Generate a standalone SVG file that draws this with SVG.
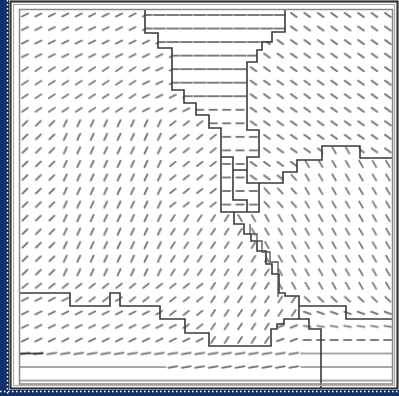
<svg xmlns="http://www.w3.org/2000/svg" width="399" height="396" viewBox="0 0 399 396">
<style>
.d{stroke:#7a7a7a;stroke-width:1.9;stroke-linecap:round;fill:none}
.h{stroke:#8a8a8a;stroke-width:1.5;fill:none}
.b{stroke:#3a3a3a;stroke-width:1.6;fill:none}
.b2{stroke:#555;stroke-width:1.3;fill:none}
</style>
<defs>
<pattern id="p25" width="13.44" height="13.54" x="18.28" y="8.23" patternUnits="userSpaceOnUse"><line class="d" x1="3.55" y1="8.25" x2="9.89" y2="5.29"/></pattern>
<pattern id="p33" width="13.44" height="13.54" x="18.28" y="8.23" patternUnits="userSpaceOnUse"><line class="d" x1="3.78" y1="8.68" x2="9.66" y2="4.86"/></pattern>
<pattern id="p38" width="13.44" height="13.54" x="18.28" y="8.23" patternUnits="userSpaceOnUse"><line class="d" x1="3.96" y1="8.92" x2="9.48" y2="4.62"/></pattern>
<pattern id="p45" width="13.44" height="13.54" x="18.28" y="8.23" patternUnits="userSpaceOnUse"><line class="d" x1="4.25" y1="9.24" x2="9.19" y2="4.30"/></pattern>
<pattern id="p57" width="13.44" height="13.54" x="18.28" y="8.23" patternUnits="userSpaceOnUse"><line class="d" x1="4.81" y1="9.71" x2="8.63" y2="3.83"/></pattern>
<pattern id="p65" width="13.44" height="13.54" x="18.28" y="8.23" patternUnits="userSpaceOnUse"><line class="d" x1="5.24" y1="9.94" x2="8.20" y2="3.60"/></pattern>
<pattern id="p20" width="13.44" height="13.54" x="18.28" y="8.23" patternUnits="userSpaceOnUse"><line class="d" x1="3.43" y1="7.97" x2="10.01" y2="5.57"/></pattern>
<pattern id="p10" width="13.44" height="13.54" x="18.28" y="8.23" patternUnits="userSpaceOnUse"><line class="d" x1="2.3" y1="7.55" x2="11.14" y2="5.99"/></pattern>
<pattern id="p0S" width="13.44" height="13.54" x="18.28" y="8.23" patternUnits="userSpaceOnUse"><line class="d" x1="3.0" y1="6.77" x2="10.44" y2="6.77"/></pattern>
<pattern id="p0L" width="13.44" height="13.54" x="18.28" y="8.23" patternUnits="userSpaceOnUse"><line class="d" x1="1.0" y1="6.77" x2="12.4" y2="6.77"/></pattern>
<pattern id="pF" width="13.44" height="13.54" x="18.28" y="8.23" patternUnits="userSpaceOnUse"><line class="h" x1="-1" y1="6.77" x2="14.5" y2="6.77"/></pattern>
<pattern id="m35" width="13.44" height="13.54" x="18.28" y="8.23" patternUnits="userSpaceOnUse"><line class="d" x1="3.85" y1="4.76" x2="9.59" y2="8.78"/></pattern>
<pattern id="m42" width="13.44" height="13.54" x="18.28" y="8.23" patternUnits="userSpaceOnUse"><line class="d" x1="4.12" y1="4.43" x2="9.32" y2="9.11"/></pattern>
<pattern id="m48" width="13.44" height="13.54" x="18.28" y="8.23" patternUnits="userSpaceOnUse"><line class="d" x1="4.38" y1="4.17" x2="9.06" y2="9.37"/></pattern>
<pattern id="m60" width="13.44" height="13.54" x="18.28" y="8.23" patternUnits="userSpaceOnUse"><line class="d" x1="4.97" y1="3.74" x2="8.47" y2="9.80"/></pattern>
<pattern id="m20" width="13.44" height="13.54" x="18.28" y="8.23" patternUnits="userSpaceOnUse"><line class="d" x1="3.43" y1="5.57" x2="10.01" y2="7.97"/></pattern>
<pattern id="m10" width="13.44" height="13.54" x="18.28" y="8.23" patternUnits="userSpaceOnUse"><line class="d" x1="3.27" y1="6.16" x2="10.17" y2="7.38"/></pattern>
<clipPath id="cLR"><polygon points="19,9 145,9 145,33 158,33 158,48 172,48 172,90 184,90 184,103 196,103 196,115 209,115 209,128 221,128 221,212 234,212 234,224 244,224 244,234 251,234 251,241 257,241 257,251 266,251 266,264 272,264 272,274 279,274 279,293 285,293 285,296 299,296 299,319 284,319 284,324 277,324 277,329 271,329 271,346 209,346 209,333 185,333 185,319 160,319 160,306 120,306 120,293 110,293 110,306 70,306 70,293 19,293"/></clipPath>
<clipPath id="cF"><polygon points="145,9 285,9 285,32 272,32 272,42 262,42 262,50 257,50 257,62 247,62 247,130 259,130 259,157 247,157 247,183 259,183 259,212 221,212 221,128 209,128 209,115 196,115 196,103 184,103 184,90 172,90 172,48 158,48 158,33 145,33"/></clipPath>
<clipPath id="cRT"><polygon points="285,9 393,9 393,158 360,158 360,146 322,146 322,160 297,160 297,172 283,172 283,183 247,183 247,157 259,157 259,130 247,130 247,62 257,62 257,50 262,50 262,42 272,42 272,32 285,32"/></clipPath>
<clipPath id="cRB"><polygon points="259,183 283,183 283,172 297,172 297,160 322,160 322,146 360,146 360,158 393,158 393,306 299,306 299,296 285,296 285,293 279,293 279,274 272,274 272,264 266,264 266,251 257,251 257,241 251,241 251,234 244,234 244,224 234,224 234,212 259,212"/></clipPath>
<clipPath id="cB"><polygon points="19,293 70,293 70,306 110,306 110,293 120,293 120,306 160,306 160,319 185,319 185,333 209,333 209,346 271,346 271,329 277,329 277,324 284,324 284,319 299,319 299,306 393,306 393,384 19,384"/></clipPath>
</defs>
<rect width="399" height="396" fill="#fff"/>
<g id="frame-strip">
<rect x="0" y="0" width="9" height="396" fill="#12306e"/>
<rect x="0" y="390" width="399" height="6" fill="#12306e"/>
<line x1="7.5" y1="0" x2="7.5" y2="396" stroke="#fff" stroke-width="1.4" stroke-dasharray="1.5 2.5"/>
<line x1="0" y1="391.5" x2="399" y2="391.5" stroke="#fff" stroke-width="1.4" stroke-dasharray="1.5 2.5"/>
</g>
<g id="field">
<g clip-path="url(#cLR)">
<rect x="18" y="8" width="381" height="54.39" fill="url(#p25)"/>
<rect x="18" y="62.39" width="121.24" height="54.16" fill="url(#p33)"/>
<rect x="139.24" y="62.39" width="260" height="54.16" fill="url(#p25)"/>
<rect x="18" y="116.55" width="40.6" height="162.48" fill="url(#p45)"/>
<rect x="58.6" y="116.55" width="107.52" height="162.48" fill="url(#p65)"/>
<rect x="166.12" y="116.55" width="240" height="94.78" fill="url(#p38)"/>
<rect x="166.12" y="211.33" width="240" height="67.7" fill="url(#p57)"/>
<rect x="18" y="279.03" width="188.44" height="70" fill="url(#p38)"/>
<rect x="206.44" y="279.03" width="200" height="70" fill="url(#p57)"/>
</g>
<g clip-path="url(#cF)">
<rect x="140" y="8" width="150" height="95.01" fill="url(#p0L)"/>
<rect x="140" y="103.01" width="150" height="110" fill="url(#p0S)"/>
</g>
<g clip-path="url(#cRT)">
<rect x="240" y="8" width="160" height="180" fill="url(#m35)"/>
</g>
<g clip-path="url(#cRB)">
<rect x="230" y="140" width="70.52" height="71.33" fill="url(#m48)"/>
<rect x="230" y="211.33" width="70.52" height="81.24" fill="url(#m60)"/>
<rect x="300.52" y="140" width="100" height="152.57" fill="url(#m60)"/>
<rect x="230" y="292.57" width="170" height="14" fill="url(#m42)"/>
</g>
<g clip-path="url(#cB)">
<rect x="18" y="290" width="188.44" height="56.73" fill="url(#p25)"/>
<rect x="206.44" y="290" width="94.08" height="56.73" fill="url(#p20)"/>
<rect x="300.52" y="290" width="100" height="29.65" fill="url(#m20)"/>
<rect x="300.52" y="319.65" width="100" height="13.54" fill="url(#m10)"/>
<rect x="300.52" y="333.19" width="100" height="13.54" fill="url(#p0S)"/>
<rect x="18" y="346.73" width="282.52" height="13.54" fill="url(#p10)"/>
<rect x="300.52" y="346.73" width="100" height="13.54" fill="url(#pF)"/>
<rect x="18" y="360.27" width="148.1" height="13.54" fill="url(#pF)"/>
<rect x="166.12" y="360.27" width="134.4" height="13.54" fill="url(#p10)"/>
<rect x="300.52" y="360.27" width="100" height="13.54" fill="url(#pF)"/>
<rect x="18" y="373.81" width="381" height="12" fill="url(#pF)"/>
</g>
</g>
<g id="boundaries">
<path class="b" d="M145,9.5 V33 H158 V48 H172 V90 H184 V103 H196 V115 H209 V128 H221 V212 H259 V183"/>
<path class="b" d="M285,9.5 V32 H272 V42 H262 V50 H257 V62 H247 V130 H259 V157 H247 V183 H283 V172 H297 V160 H322 V146 H360 V158 H392"/>
<path class="b" d="M221,157 H233 V200 H247 V212 M233,170 H247"/>
<path class="b" d="M234,212 V224 H244 V234 H251 V241 H257 V251 H266 V264 H272 V274 H279 V293 H285 V296 H299 V319"/>
<path class="b2" d="M250,224 V234 H257 V241 H262 V252 H270 V262 H278 V297"/>
<path class="b" d="M299,306 H346 V319 H392"/>
<path class="b" d="M19,293 H70 V306 H110 V293 H120 V306 H160 V319 H185 V333 H209 V346 H271 V329 H277 V324 H284 V319 H309 V329 H321 V388"/>
<path class="b" d="M19,353.5 H43"/>
</g>
<g id="frame">
<rect x="10.5" y="1.5" width="387" height="387" fill="none" stroke="#333" stroke-width="2.2"/>
<rect x="13.5" y="4.5" width="381" height="381" fill="none" stroke="#aaa" stroke-width="1.2"/>
<rect x="19.5" y="9.5" width="373" height="374.5" fill="none" stroke="#888" stroke-width="1.5"/>
</g>
</svg>
